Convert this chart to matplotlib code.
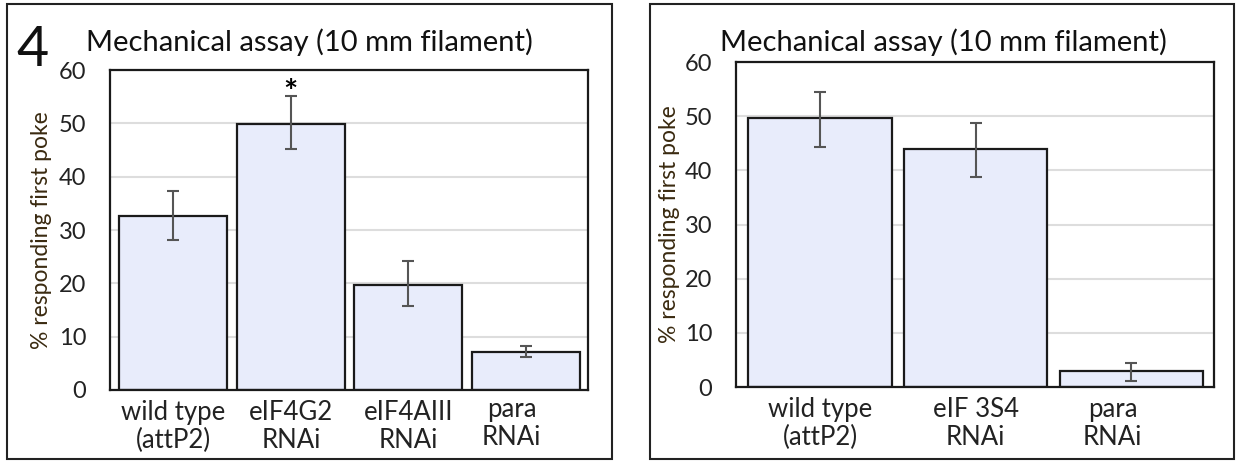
import matplotlib.pyplot as plt
from matplotlib.patches import Rectangle
from matplotlib.transforms import ScaledTranslation

plt.rcParams['font.family'] = ['Lato', 'DejaVu Sans']

# panel 4 (left)
left_labels = ['wild type\n(attP2)', 'eIF4G2\nRNAi', 'eIF4AIII\nRNAi', 'para\nRNAi']
left_vals = [32.6, 49.9, 19.7, 7.2]
left_lo = [28.2, 45.1, 15.7, 6.1]
left_hi = [37.4, 55.2, 24.1, 8.2]

# right panel
right_labels = ['wild type\n(attP2)', 'eIF 3S4\nRNAi', 'para\nRNAi']
right_vals = [49.6, 44.0, 2.9]
right_lo = [44.4, 38.8, 1.2]
right_hi = [54.4, 48.7, 4.5]

title = 'Mechanical assay (10 mm filament)'
ylab = '% responding first poke'

W, H = 1238, 461
fig = plt.figure(figsize=(W / 100, H / 100), dpi=100)

# panel frames
for x0, x1 in [(7, 612), (650, 1234)]:
    fig.patches.append(Rectangle((x0 / W, 1 - 459 / H), (x1 - x0) / W, 455 / H,
                                 transform=fig.transFigure, fill=False,
                                 edgecolor='#222222', lw=1.5))


def draw(ax, labels, vals, lo, hi, ylab_x):
    x = list(range(len(vals)))
    err = [[v - l for v, l in zip(vals, lo)], [h - v for v, h in zip(vals, hi)]]
    ax.bar(x, vals, width=0.92, color='#e8ecfb', edgecolor='#1a1a1a', lw=1.6, zorder=2)
    ax.errorbar(x, vals, yerr=err, fmt='none', ecolor='#555555', elinewidth=1.5,
                capsize=4, capthick=1.5, zorder=3)
    ax.set_ylim(0, 60)
    ax.set_xlim(-0.54, len(vals) - 1 + 0.53)
    ax.set_yticks(range(0, 61, 10))
    ax.yaxis.grid(True, color='#dddddd', lw=1.5, zorder=0)
    ax.set_axisbelow(True)
    ax.set_xticks(x)
    ax.set_xticklabels(labels, fontsize=18.5, linespacing=1.15, color='#222222')
    ax.tick_params(axis='both', length=0, labelcolor='#222222')
    ax.tick_params(axis='x', pad=7)
    ax.tick_params(axis='y', pad=17, labelsize=17)
    for s in ax.spines.values():
        s.set_linewidth(1.6)
        s.set_color('#1a1a1a')
    ax.set_ylabel(ylab, fontsize=16.5, color='#3a2a10')
    ax.yaxis.label.set_va('center')
    ax.yaxis.set_label_coords(ylab_x, 0.5)


axL = fig.add_axes([110 / W, 1 - 390 / H, 478 / W, 320 / H])
draw(axL, left_labels, left_vals, left_lo, left_hi, (42 - 110) / 478)
axL.text(1, 55.6, '*', ha='center', va='center', fontsize=24, fontweight='bold')

axR = fig.add_axes([736 / W, 1 - 387 / H, 478 / W, 325 / H])
draw(axR, right_labels, right_vals, right_lo, right_hi, (670 - 736) / 478)

# the "para" labels sit a little left of their bars
for lab, dx, dy in [(axL.get_xticklabels()[3], -14, 3), (axR.get_xticklabels()[2], -19, 0)]:
    lab.set_transform(lab.get_transform() + ScaledTranslation(dx / 100, dy / 100, fig.dpi_scale_trans))

fig.text(309 / W, 1 - 42 / H, title, fontsize=21, ha='center', va='center', color='#111111')
fig.text(943 / W, 1 - 42 / H, title, fontsize=21, ha='center', va='center', color='#111111')
fig.text(16 / W, 1 - 50 / H, '4', fontsize=40, va='center', ha='left', color='#111111')

fig.savefig('out.png', dpi=100)
